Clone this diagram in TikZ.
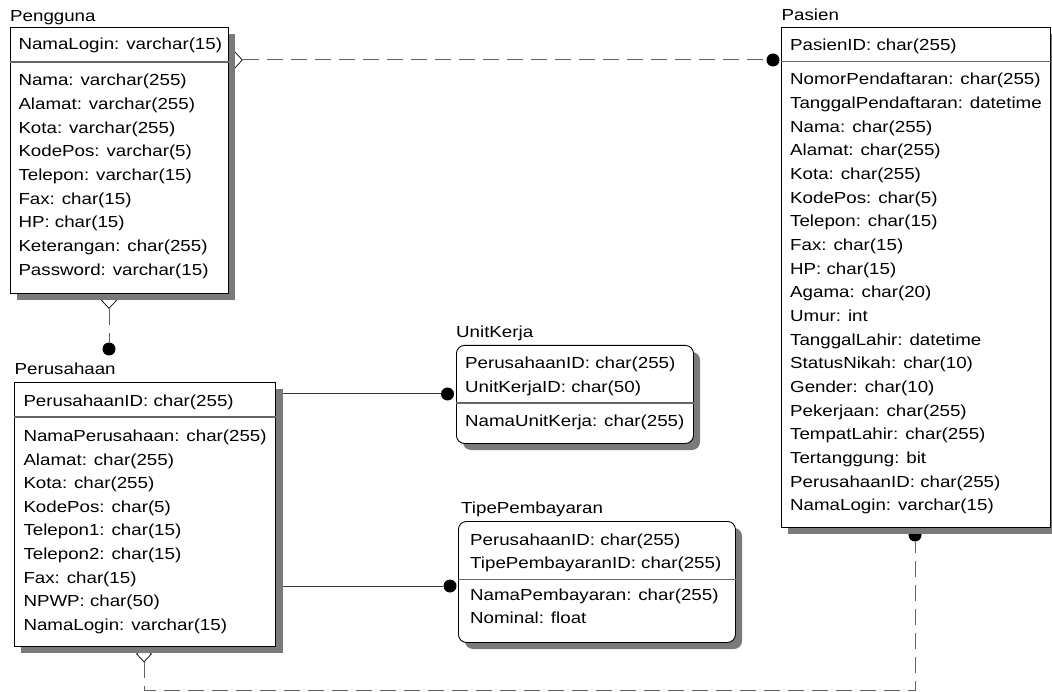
\documentclass[tikz,border=0pt]{standalone}
\usepackage{fontspec}
\setmainfont{Liberation Sans}[FakeStretch=1.17]
\usetikzlibrary{shapes.geometric}
\begin{document}
\begin{tikzpicture}[x=1pt,y=-1pt,
  ent/.style={draw=black, fill=white, line width=0.9pt, anchor=north west, inner sep=0pt},
  rent/.style={ent, rounded corners=8pt},
  shad/.style={fill=black!52},
  sep/.style={draw=black!60, line width=1.3pt},
  row/.style={anchor=base west, inner sep=0pt, font=\fontsize{16}{19}\selectfont},
  dot/.style={circle, fill=black, inner sep=0pt, minimum size=13pt},
  dia/.style={diamond, draw=black, fill=white, inner sep=0pt, minimum width=15pt, minimum height=16pt, line width=0.7pt},
  rel/.style={draw=black!78, line width=1pt},
  idrel/.style={draw=black!62, line width=1pt, dash pattern=on 16pt off 8pt},
]
\useasboundingbox (0,0) rectangle (1052,692);
\fill[white] (0,0) rectangle (1052,692);

% ---------- connector end markers and named points
\node[dia] (dPgR) at (235,60) {};
\node[dia] (dPgB) at (109,300.5) {};
\node[dia] (dPrB) at (144,654) {};
\node[dot] (dPs)  at (773,60) {};
\node[dot] (dPr)  at (109,349) {};
\node[dot] (dUK)  at (447.5,394) {};
\node[dot] (dTP)  at (450,586) {};
\node[dot] (dPsB) at (915,535) {};
\coordinate (pUK) at (283,394);
\coordinate (pTP) at (283,586);
\coordinate (cBot) at (144,690);

% ---------- connectors
\draw[idrel] (dPgR.east) -- (dPs);
\draw[idrel] (dPgB.south) -- (dPr);
\draw[rel] (pUK) -- (dUK);
\draw[rel] (pTP) -- (dTP);
\draw[idrel] (dPrB.south) -- (cBot) -| (dPsB);

% ---------- shadows
\fill[shad] (16.5,34) rectangle (235,300);
\fill[shad] (788,34) rectangle (1057,534);
\fill[shad] (21,389) rectangle (283,653);
\fill[shad, rounded corners=8pt] (463,352) rectangle (700,450);
\fill[shad, rounded corners=8pt] (465,528) rectangle (742,649);

% ---------- Pengguna
\node[row] (tPg) at (10,21.5) {Pengguna};
\node[ent, minimum width=218.5pt, minimum height=265.5pt] (Pg) at (9.5,27.5) {};
\draw[sep] (Pg.west |- 0,62) -- (Pg.east |- 0,62);
\node[row] (pgk) at (18.3,50) {NamaLogin: varchar(15)};
\foreach [count=\i from 0] \t in {Nama: varchar(255),Alamat: varchar(255),Kota: varchar(255),KodePos: varchar(5),Telepon: varchar(15),Fax: char(15),HP: char(15),Keterangan: char(255),Password: varchar(15)}
  \node[row] (pg\i) at (18.3,86+23.65*\i) {\t};

% ---------- Pasien
\node[row] (tPs) at (781.5,20.5) {Pasien};
\node[ent, minimum width=269.5pt, minimum height=500pt] (Ps) at (780.5,27) {};
\draw[sep] (Ps.west |- 0,61.5) -- (Ps.east |- 0,61.5);
\node[row] (psk) at (790,50.3) {PasienID: char(255)};
\foreach [count=\i from 0] \t in {NomorPendaftaran: char(255),TanggalPendaftaran: datetime,Nama: char(255),Alamat: char(255),Kota: char(255),KodePos: char(5),Telepon: char(15),Fax: char(15),HP: char(15),Agama: char(20),Umur: int,TanggalLahir: datetime,StatusNikah: char(10),Gender: char(10),Pekerjaan: char(255),TempatLahir: char(255),Tertanggung: bit,PerusahaanID: char(255),NamaLogin: varchar(15)}
  \node[row] (ps\i) at (790,85+23.65*\i) {\t};

% ---------- Perusahaan
\node[row] (tPr) at (14.5,375) {Perusahaan};
\node[ent, minimum width=261pt, minimum height=264pt] (Pr) at (14,382) {};
\draw[sep] (Pr.west |- 0,417) -- (Pr.east |- 0,417);
\node[row] (prk) at (23.3,406.5) {PerusahaanID: char(255)};
\foreach [count=\i from 0] \t in {NamaPerusahaan: char(255),Alamat: char(255),Kota: char(255),KodePos: char(5),Telepon1: char(15),Telepon2: char(15),Fax: char(15),NPWP: char(50),NamaLogin: varchar(15)}
  \node[row] (pr\i) at (23.3,441.5+23.6*\i) {\t};

% ---------- UnitKerja
\node[row] (tUK) at (456,338) {UnitKerja};
\node[rent, minimum width=237pt, minimum height=98pt] (UK) at (456,345) {};
\draw[sep] (UK.west |- 0,403) -- (UK.east |- 0,403);
\node[row] (uk0) at (465,369) {PerusahaanID: char(255)};
\node[row] (uk1) at (465,392) {UnitKerjaID: char(50)};
\node[row] (uk2) at (465,426.5) {NamaUnitKerja: char(255)};

% ---------- TipePembayaran
\node[row] (tTP) at (461,513) {TipePembayaran};
\node[rent, minimum width=277pt, minimum height=121pt] (TP) at (458,521) {};
\draw[sep] (TP.west |- 0,579.5) -- (TP.east |- 0,579.5);
\node[row] (tp0) at (470,545.5) {PerusahaanID: char(255)};
\node[row] (tp1) at (470,568.5) {TipePembayaranID: char(255)};
\node[row] (tp2) at (470,600.5) {NamaPembayaran: char(255)};
\node[row] (tp3) at (470,623.5) {Nominal: float};
\end{tikzpicture}
\end{document}
